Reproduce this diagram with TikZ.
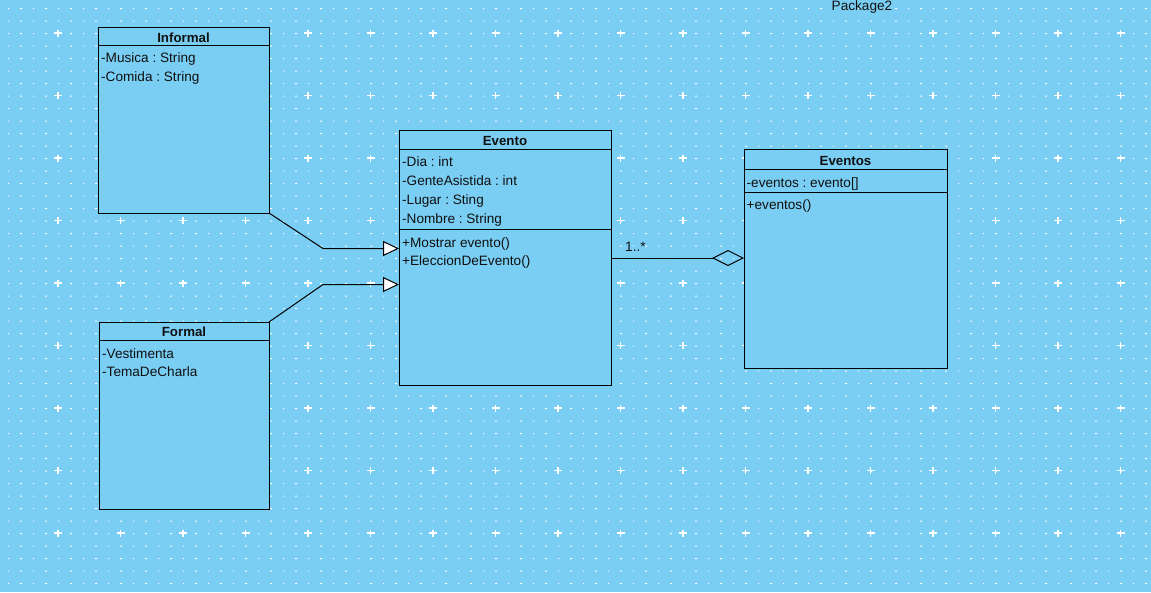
\documentclass[tikz,border=0pt]{standalone}
\usepackage{fontspec}
\setmainfont{Liberation Sans}
\usetikzlibrary{arrows.meta}
\frenchspacing
\definecolor{bgc}{HTML}{7ACEF4}
\definecolor{boxc}{HTML}{7ACEF4}
\definecolor{txc}{HTML}{101010}
\tikzset{
  classbox/.style={draw=black, line width=1pt, fill=boxc, inner sep=0pt, outer sep=0pt, anchor=center},
  sepline/.style={draw=black, line width=1pt},
  txt/.style={anchor=base west, inner sep=0pt, text=txc},
  ttl/.style={anchor=base, inner sep=0pt, text=txc, font=\fontsize{13.3}{16}\selectfont\bfseries},
  gen/.style={draw=black, line width=1pt, -{Triangle[length=16pt,width=15pt,fill=white]}},
  agg/.style={draw=black, line width=1pt, -{Diamond[open,length=32pt,width=16pt]}},
}
\begin{document}
\begin{tikzpicture}[x=1pt,y=-1pt, font=\fontsize{13.6}{16}\selectfont]
\useasboundingbox (0,0) rectangle (1151,592);
\fill[bgc] (0,0) rectangle (1151,592);
% grid dots
\fill[white] \foreach \j in {0,...,46} { \foreach \i in {0,2,...,90} { (8+12.5*\i, 8+12.5*\j) rectangle ++(1,1) } };
\fill[white] \foreach \j in {0,...,46} { \foreach \i in {1,3,...,91} { (7.5+12.5*\i, 8+12.5*\j) rectangle ++(2,1) } };
% grid pluses
\draw[white, line width=1.3pt] \foreach \j in {0,...,8} { \foreach \i in {0,...,17} {
   (58+62.5*\i-4, 33+62.5*\j) -- ++(8,0)
   (58+62.5*\i, 33+62.5*\j-3.5) -- ++(0,7) } };

\node[txt] (pkg) at (831.5,10) {Package2};

% Informal
\node[classbox, minimum width=171pt, minimum height=186pt] (informal) at (183.5,120) {};
\draw[sepline] (informal.west |- 0,45) -- (informal.east |- 0,45);
\node[ttl] (informal-t) at (183.5,42.3) {Informal};
\node[txt] (informal-a1) at (101,62.5) {-Musica : String};
\node[txt] (informal-a2) at (101,81.8) {-Comida : String};

% Formal
\node[classbox, minimum width=170pt, minimum height=187pt] (formal) at (184,415.5) {};
\draw[sepline] (formal.west |- 0,340.5) -- (formal.east |- 0,340.5);
\node[ttl] (formal-t) at (184,336.7) {Formal};
\node[txt] (formal-a1) at (102,358) {-Vestimenta};
\node[txt] (formal-a2) at (102,376.8) {-TemaDeCharla};

% Evento
\node[classbox, minimum width=212pt, minimum height=255pt] (evento) at (505,257.5) {};
\draw[sepline] (evento.west |- 0,149) -- (evento.east |- 0,149);
\draw[sepline] (evento.west |- 0,229.5) -- (evento.east |- 0,229.5);
\node[ttl] (evento-t) at (505,145.7) {Evento};
\node[txt] (evento-a1) at (402,166.5) {-Dia : int};
\node[txt] (evento-a2) at (402,185.5) {-GenteAsistida : int};
\node[txt] (evento-a3) at (402,204.8) {-Lugar : Sting};
\node[txt] (evento-a4) at (402,223.3) {-Nombre : String};
\node[txt] (evento-m1) at (402,247) {+Mostrar evento()};
\node[txt] (evento-m2) at (402,265.5) {+EleccionDeEvento()};

% Eventos
\node[classbox, minimum width=203pt, minimum height=219pt] (eventos) at (845.5,258.5) {};
\draw[sepline] (eventos.west |- 0,169) -- (eventos.east |- 0,169);
\draw[sepline] (eventos.west |- 0,192.5) -- (eventos.east |- 0,192.5);
\node[ttl] (eventos-t) at (845.5,165.3) {Eventos};
\node[txt] (eventos-a1) at (746.5,187.3) {-eventos : evento[]};
\node[txt] (eventos-m1) at (746.5,209.5) {+eventos()};

% generalizations
\coordinate (b1) at (323,248.5);
\coordinate (b2) at (323,284.5);
\draw[gen] (informal.south east) -- (b1) -- (b1 -| evento.west);
\draw[gen] (formal.north east) -- (b2) -- (b2 -| evento.west);

% aggregation
\coordinate (aggy) at (0,258);
\draw[agg] (evento.east |- aggy) -- (eventos.west |- aggy);
\node[txt] (mult) at (625,251) {1..*};
\end{tikzpicture}
\end{document}
